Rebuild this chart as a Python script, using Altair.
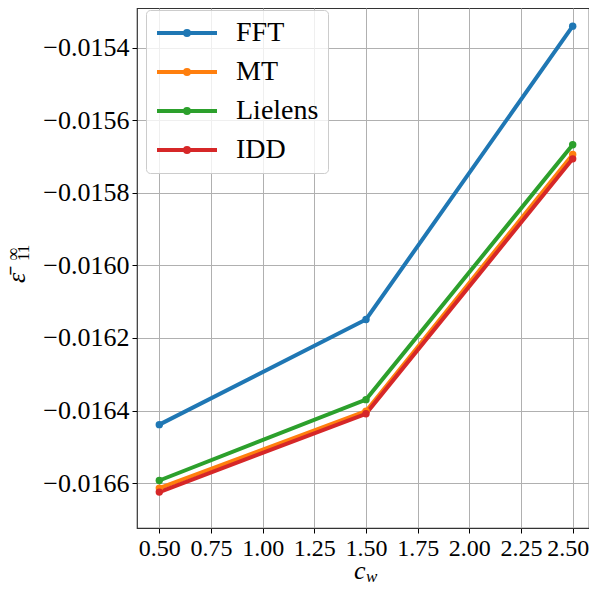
import altair as alt
import pandas as pd

# ---- data ----
cw = [0.5, 1.5, 2.5]
methods = ["FFT", "MT", "Lielens", "IDD"]
fft = [-0.016439, -0.016149, -0.015340]
mt = [-0.016614, -0.016402, -0.015694]
lielens = [-0.016593, -0.016370, -0.015667]
idd = [-0.016625, -0.016409, -0.015706]
colors = ["#1f77b4", "#ff7f0e", "#2ca02c", "#d62728"]
x_ticks = [0.5, 0.75, 1.0, 1.25, 1.5, 1.75, 2.0, 2.25, 2.5]
y_ticks = [-0.0166, -0.0164, -0.0162, -0.0160, -0.0158, -0.0156, -0.0154]
x_title = ["c"]
x_sub = ["w"]
y_title = ["ε̄"]
y_sup = ["∞"]
y_sub = ["11"]

series = {"FFT": fft, "MT": mt, "Lielens": lielens, "IDD": idd}
rows = []
for m in methods:
    for xv, yv in zip(cw, series[m]):
        rows.append({"method": m, "cw": xv, "eps": yv})
df = pd.DataFrame(rows)

FONT = "Liberation Serif"
W, H = 452, 520

# line with a dot, drawn by stroking (stroke width 4px)
sym_path = ("M-3,0H3 "
            "M-0.2,0A0.2,0.2 0 1,1 0.2,0A0.2,0.2 0 1,1 -0.2,0Z")

xs = alt.Scale(domain=[0.3921, 2.5789], nice=False, zero=False)
ys = alt.Scale(domain=[-0.016724, -0.015290], nice=False, zero=False)
cs = alt.Scale(domain=methods, range=colors)

legend = alt.Legend(
    title=None, orient="none", legendX=9, legendY=2,
    symbolType=sym_path, symbolSize=400, symbolOffset=18, labelOffset=35,
    symbolStrokeWidth=4, symbolFillColor="transparent",
    labelFont=FONT, labelFontSize=28, labelColor="black",
    padding=9,
    fillColor="rgba(255,255,255,0.8)", strokeColor="#cccccc", cornerRadius=4,
)

x_axis = alt.Axis(values=x_ticks, format=".2f", title=None, labelFont=FONT,
                  labelFontSize=24, labelColor="black", tickColor="black",
                  tickSize=5, labelPadding=3, grid=True, gridColor="#b0b0b0",
                  gridWidth=1, domain=False, labelFlush=False,
                  labelOffset={"condition": {"test": "datum.value >= 2.5", "value": -5},
                               "value": 0})
y_axis = alt.Axis(values=y_ticks, format=".4f", title=None, labelFont=FONT,
                  labelFontSize=26, labelColor="black", tickColor="black",
                  tickSize=5, labelPadding=3, grid=True, gridColor="#b0b0b0",
                  gridWidth=1, domain=False, labelFlush=False)

base = alt.Chart(df)
lines = base.mark_line(strokeWidth=4).encode(
    x=alt.X("cw:Q", scale=xs, axis=x_axis),
    y=alt.Y("eps:Q", scale=ys, axis=y_axis),
    color=alt.Color("method:N", scale=cs, legend=legend, sort=methods),
    detail="method:N",
)
points = base.mark_point(filled=True, size=55, opacity=1).encode(
    x=alt.X("cw:Q", scale=xs),
    y=alt.Y("eps:Q", scale=ys),
    color=alt.Color("method:N", scale=cs, legend=legend, sort=methods),
)


def label(vals, x, y, size, angle=0, italic=False):
    d = pd.DataFrame({"t": vals})
    return alt.Chart(d).mark_text(
        font=FONT, fontSize=size, align="left", baseline="alphabetic",
        angle=angle, fontStyle="italic" if italic else "normal", color="black",
    ).encode(x=alt.value(x), y=alt.value(y), text="t:N")


titles = [
    label(x_title, 217, 571, 26, italic=True),
    label(x_sub, 229, 574, 17, italic=True),
    label(y_title, -112, 275, 26, angle=270, italic=True),
    label(y_sup, -118, 253, 18, angle=270),
    label(y_sub, -108, 253, 17, angle=270),
]

chart = alt.layer(lines, points, *titles).properties(
    width=W, height=H,
    autosize=alt.AutoSizeParams(type="none"),
    padding={"left": 129, "top": 0, "right": 0, "bottom": 58},
).configure_view(stroke="#333333", strokeWidth=1.2).configure_legend(rowPadding=11)

chart.save("out.html", embed_options={"renderer": "svg", "actions": False})
